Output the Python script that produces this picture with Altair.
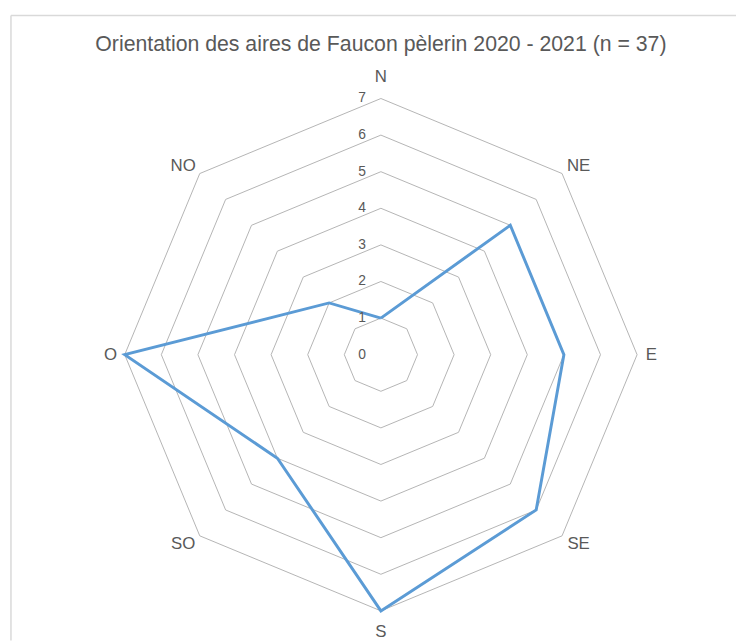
import altair as alt
import pandas as pd

# Data
directions = ["N", "NE", "E", "SE", "S", "SO", "O", "NO"]
values = [1, 5, 5, 6, 7, 4, 7, 2]
ring_levels = [1, 2, 3, 4, 5, 6, 7]
tick_labels = [0, 1, 2, 3, 4, 5, 6, 7]
title_text = "Orientation des aires de Faucon pèlerin 2020 - 2021 (n = 37)"

W, H = 736, 636
CX, CY = 377, 347
xs = alt.Scale(domain=[-CX / 37, (W - CX) / 37], nice=False, zero=False)
ys = alt.Scale(domain=[-(H - CY) / 37, CY / 37], nice=False, zero=False)

FONT = "Liberation Sans"
TXT = "#595959"

# series (closed polygon)
n = len(directions)
series_df = pd.DataFrame({
    "idx": list(range(n)) + [n],
    "dir": directions + [directions[0]],
    "value": values + [values[0]],
})

# rings
ring_rows = []
for k in ring_levels:
    for i in range(n + 1):
        ring_rows.append({"ring": k, "idx": i})
ring_df = pd.DataFrame(ring_rows)

ang = "datum.idx * PI / 4"

rings = alt.Chart(ring_df).mark_line(color="#b4b4b4", strokeWidth=1).transform_calculate(
    x=f"datum.ring * sin({ang})", y=f"datum.ring * cos({ang})"
).encode(
    x=alt.X("x:Q", scale=xs, axis=None),
    y=alt.Y("y:Q", scale=ys, axis=None),
    detail="ring:N",
    order="idx:Q",
)

series = alt.Chart(series_df).mark_line(color="#5b9bd5", strokeWidth=3, strokeJoin="miter").transform_calculate(
    x=f"datum.value * sin({ang})", y=f"datum.value * cos({ang})"
).encode(
    x=alt.X("x:Q", scale=xs, axis=None),
    y=alt.Y("y:Q", scale=ys, axis=None),
    order="idx:Q",
)

tick_df = pd.DataFrame({"t": tick_labels})
ticks = alt.Chart(tick_df).mark_text(
    font=FONT, fontSize=14, color=TXT, align="center", baseline="middle", dx=-19
).transform_calculate(x="0", y="datum.t").encode(
    x=alt.X("x:Q", scale=xs, axis=None),
    y=alt.Y("y:Q", scale=ys, axis=None),
    text="t:N",
)

dir_df = pd.DataFrame({"idx": list(range(n)), "dir": directions})
dir_labels = alt.Chart(dir_df).mark_text(
    font=FONT, fontSize=17, color=TXT, align="center", baseline="middle"
).transform_calculate(
    d=f"abs(sin(2 * {ang}))"
).transform_calculate(
    x=f"(7.39 + 0.25 * datum.d) * sin({ang})",
    y=f"(7.58 - 0.28 * datum.d) * cos({ang})",
).encode(
    x=alt.X("x:Q", scale=xs, axis=None),
    y=alt.Y("y:Q", scale=ys, axis=None),
    text="dir:N",
)

title = alt.Chart(pd.DataFrame({"t": [title_text]})).mark_text(
    font=FONT, fontSize=21.5, color=TXT, align="center", baseline="middle"
).encode(x=alt.value(CX), y=alt.value(34), text="t:N")

border_top = alt.Chart(pd.DataFrame({"a": [0]})).mark_rule(color="#d9d9d9", strokeWidth=1.5).encode(
    x=alt.value(3), x2=alt.value(W), y=alt.value(4)
)
border_left = alt.Chart(pd.DataFrame({"a": [0]})).mark_rule(color="#d9d9d9", strokeWidth=1.5).encode(
    x=alt.value(3), y=alt.value(4), y2=alt.value(H)
)

chart = alt.layer(border_top, border_left, rings, series, ticks, dir_labels, title).properties(
    width=W, height=H, padding=0, autosize=alt.AutoSizeParams(type="none")
).configure_view(stroke=None)

chart.save("out.html", embed_options={"renderer": "svg", "actions": False})
